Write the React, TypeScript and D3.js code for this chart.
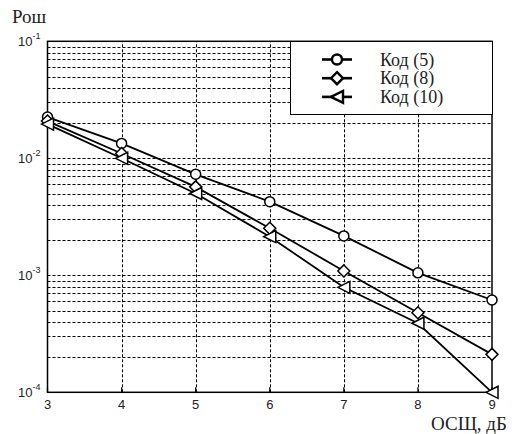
import React from 'react';
import * as d3 from 'd3';

const snr = [3, 4, 5, 6, 7, 8, 9];
const code5 = [0.0225, 0.0134, 0.0073, 0.00426, 0.00217, 0.00105, 0.000615];
const code8 = [0.0208, 0.011, 0.0057, 0.00252, 0.00109, 0.000479, 0.000211];
const code10 = [0.0196, 0.01, 0.005, 0.00214, 0.000789, 0.000389, 0.0001];
const seriesNames = ['Код (5)', 'Код (8)', 'Код (10)'];
const markerKinds = ['circle', 'diamond', 'triangle'];
const decades = [-4, -3, -2, -1];

const W = 518;
const H = 434;

function Marker({ kind, x, y, size = 5, sw = 1.5 }: { kind: string; x: number; y: number; size?: number; sw?: number }) {
  if (kind === 'circle') {
    return <circle cx={x} cy={y} r={size} fill="#fff" stroke="#000" strokeWidth={sw} />;
  }
  const s = size + 1;
  if (kind === 'diamond') {
    return (
      <path
        d={`M${x},${y - s}L${x + s},${y}L${x},${y + s}L${x - s},${y}Z`}
        fill="#fff"
        stroke="#000"
        strokeWidth={sw}
      />
    );
  }
  return (
    <path
      d={`M${x - s},${y}L${x + s},${y - s}L${x + s},${y + s}Z`}
      fill="#fff"
      stroke="#000"
      strokeWidth={sw}
    />
  );
}

export default function App() {
  const x = d3.scaleLinear().domain([3, 9]).range([47.5, 492]);
  const y = d3.scaleLog().domain([1e-4, 1e-1]).range([392.3, 41.3]);
  const series = [code5, code8, code10];
  const line = d3
    .line<number>()
    .x((_, i) => x(snr[i]))
    .y((d) => y(d));

  const minor: number[] = [];
  decades.slice(0, 3).forEach((p) => {
    for (let m = 1; m <= 9; m++) minor.push(m * Math.pow(10, p));
  });

  const [x0, x1] = x.range();
  const [y0, y1] = y.range();

  return (
    <svg width={W} height={H} style={{ position: 'absolute', left: 0, top: 0, background: '#fff' }}>
      <rect width={W} height={H} fill="#fff" />
      {/* grid */}
      <g stroke="#000" strokeWidth={1} strokeDasharray="3,2" fill="none">
        {minor.slice(1).map((v) => (
          <line key={v} x1={x0} x2={x1} y1={Math.round(y(v)) + 0.5} y2={Math.round(y(v)) + 0.5} />
        ))}
        {snr.slice(1, -1).map((v) => (
          <line key={v} x1={Math.round(x(v)) + 0.5} x2={Math.round(x(v)) + 0.5} y1={y0} y2={y1} />
        ))}
      </g>
      {/* frame */}
      <rect x={x0} y={y1} width={x1 - x0} height={y0 - y1} fill="none" stroke="#000" strokeWidth={1.5} />
      <g stroke="#000" strokeWidth={1.2}>
        {snr.map((v) => (
          <line key={v} x1={x(v)} x2={x(v)} y1={y0} y2={y0 - 5} />
        ))}
      </g>
      <g fontFamily="'Liberation Sans', Arial, sans-serif" fill="#222">
        {snr.map((v) => (
          <text key={v} x={x(v)} y={409} fontSize={13} textAnchor="middle">
            {v}
          </text>
        ))}
        {decades.map((p) => (
          <text key={p} x={18} y={y(Math.pow(10, p)) + 4.5} fontSize={13}>
            10
            <tspan dy={-7} fontSize={9}>
              {`-${-p}`}
            </tspan>
          </text>
        ))}
      </g>
      {/* series */}
      {series.map((s, k) => (
        <g key={k}>
          <path d={line(s) ?? ''} fill="none" stroke="#000" strokeWidth={1.8} />
          {s.map((v, i) => (
            <Marker key={i} kind={markerKinds[k]} x={x(snr[i])} y={y(v)} />
          ))}
        </g>
      ))}
      {/* legend */}
      <rect x={290.5} y={41.5} width={202} height={73} fill="#fff" stroke="#000" strokeWidth={1} />
      {seriesNames.map((name, k) => {
        const ly = 59.5 + k * 18.7;
        return (
          <g key={name}>
            <line x1={322} x2={352} y1={ly} y2={ly} stroke="#000" strokeWidth={2.6} />
            <Marker kind={markerKinds[k]} x={337} y={ly} size={5} sw={2.4} />
            <text
              x={380}
              y={ly + 6}
              fontFamily="'Liberation Serif', 'Times New Roman', serif"
              fontSize={18}
              fill="#222"
            >
              {name}
            </text>
          </g>
        );
      })}
      <text x={12} y={23} fontFamily="'Liberation Serif', 'Times New Roman', serif" fontSize={19} fill="#222">
        Рош
      </text>
      <text x={431} y={430} fontFamily="'Liberation Serif', 'Times New Roman', serif" fontSize={19} fill="#222">
        ОСЩ, дБ
      </text>
    </svg>
  );
}
